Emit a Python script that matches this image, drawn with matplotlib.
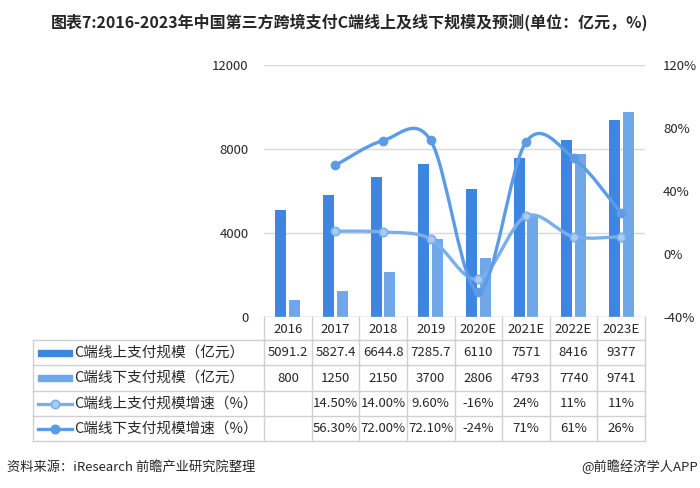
import numpy as np
import matplotlib
matplotlib.use("Agg")
import matplotlib.pyplot as plt
from matplotlib.path import Path
from matplotlib.patches import PathPatch, Rectangle
from matplotlib.lines import Line2D

plt.rcParams['font.family'] = ['Noto Sans CJK SC', 'DejaVu Sans']

# 数据
years = ["2016", "2017", "2018", "2019", "2020E", "2021E", "2022E", "2023E"]
online = [5091.2, 5827.4, 6644.8, 7285.7, 6110, 7571, 8416, 9377]
offline = [800, 1250, 2150, 3700, 2806, 4793, 7740, 9741]
online_growth = [None, 14.5, 14.0, 9.6, -16, 24, 11, 11]
offline_growth = [None, 56.3, 72.0, 72.1, -24, 71, 61, 26]
online_growth_txt = ["", "14.50%", "14.00%", "9.60%", "-16%", "24%", "11%", "11%"]
offline_growth_txt = ["", "56.30%", "72.00%", "72.10%", "-24%", "71%", "61%", "26%"]
row_labels = ["C端线上支付规模（亿元）", "C端线下支付规模（亿元）",
              "C端线上支付规模增速（%）", "C端线下支付规模增速（%）"]

C_ON = "#3E86E0"
C_OFF = "#70A7E9"
C_LON = "#7BAFEC"
C_LOFF = "#5C9BE6"
GRID = "#D9D9D9"
TXT = "#262626"

W, H = 700, 488
fig = plt.figure(figsize=(W / 100, H / 100), dpi=100)

# 主图区域 (像素)
px_l, px_r, px_t, px_b = 264, 645, 65, 317
ax = fig.add_axes([px_l / W, 1 - px_b / H, (px_r - px_l) / W, (px_b - px_t) / H])
ax2 = ax.twinx()

x = np.arange(len(years))
bw = 0.23
ax.bar(x - 0.145, online, bw, color=C_ON, zorder=2)
ax.bar(x + 0.145, offline, bw, color=C_OFF, zorder=2)
ax.set_xlim(-0.5, len(years) - 0.5)
ax.set_ylim(0, 12000)
ax.set_yticks([0, 4000, 8000, 12000])
ax.yaxis.grid(True, color=GRID, linewidth=1)
ax.set_axisbelow(True)
ax.set_xticks([])
ax.tick_params(axis='y', length=0, pad=11, labelsize=9.5, labelcolor=TXT)
for s in ax.spines.values():
    s.set_visible(False)
ax.axhline(0, color=GRID, linewidth=1)

ax2.set_ylim(-40, 120)
ax2.set_yticks([-40, 0, 40, 80, 120])
ax2.set_yticklabels([f"{v}%" for v in [-40, 0, 40, 80, 120]])
ax2.tick_params(axis='y', length=0, pad=13, labelsize=9.5, labelcolor=TXT)
for s in ax2.spines.values():
    s.set_visible(False)


def smooth_line(axis, xs, ys, color, lw):
    # Excel 式平滑线: 在像素空间做 Catmull-Rom -> 贝塞尔
    pts = axis.transData.transform(np.column_stack([xs, ys]))
    n = len(pts)
    verts = [pts[0]]
    codes = [Path.MOVETO]
    for i in range(n - 1):
        p0 = pts[max(i - 1, 0)]
        p1 = pts[i]
        p2 = pts[i + 1]
        p3 = pts[min(i + 2, n - 1)]
        c1 = p1 + (p2 - p0) / 6
        c2 = p2 - (p3 - p1) / 6
        verts += [c1, c2, p2]
        codes += [Path.CURVE4] * 3
    verts = axis.transData.inverted().transform(np.array(verts))
    axis.add_patch(PathPatch(Path(verts, codes), facecolor='none',
                             edgecolor=color, linewidth=lw, zorder=3,
                             capstyle='round'))


fig.canvas.draw()
gx = [i for i, v in enumerate(online_growth) if v is not None]
gy_on = [v for v in online_growth if v is not None]
gy_off = [v for v in offline_growth if v is not None]
smooth_line(ax2, gx, gy_on, C_LON, 2.4)
smooth_line(ax2, gx, gy_off, C_LOFF, 2.4)
ax2.plot(gx, gy_on, linestyle='none', marker='o', markersize=6,
         markerfacecolor="#A9CCF4", markeredgecolor=C_LON, markeredgewidth=1.2, zorder=4)
ax2.plot(gx, gy_off, linestyle='none', marker='o', markersize=6,
         color=C_LOFF, zorder=4)

# 数据表
tb_l, tb_b = 33, 441
colw = (px_r - px_l) / len(years)
tax = fig.add_axes([0, 0, 1, 1])
tax.set_xlim(0, W)
tax.set_ylim(H, 0)
tax.axis('off')
rows_y = [317, 340, 365, 391, 416, 441]
lc = "#D0D0D0"
# 横线
for y in rows_y[1:]:
    tax.plot([tb_l, px_r], [y, y], color=lc, lw=1)
# 竖线
for i in range(len(years) + 1):
    xx = px_l + i * colw
    tax.plot([xx, xx], [rows_y[0], rows_y[-1]], color=lc, lw=1)
tax.plot([tb_l, tb_l], [rows_y[1], rows_y[-1]], color=lc, lw=1)

# 表头
for i, yr in enumerate(years):
    tax.text(px_l + (i + 0.5) * colw, (rows_y[0] + rows_y[1]) / 2 + 1, yr,
             ha='center', va='center', fontsize=9.5, color=TXT)

table_rows = [[f"{v:g}" for v in online], [f"{v:g}" for v in offline],
              online_growth_txt, offline_growth_txt]
for r, vals in enumerate(table_rows):
    yc = (rows_y[r + 1] + rows_y[r + 2]) / 2
    for i, v in enumerate(vals):
        tax.text(px_l + (i + 0.5) * colw, yc, v, ha='center', va='center',
                 fontsize=9.5, color=TXT)
    tax.text(74, yc, row_labels[r], ha='left', va='center', fontsize=10.5, color=TXT)

# 图例符号
sym_l, sym_r = 38, 72
for r, col in enumerate([C_ON, C_OFF]):
    yc = (rows_y[r + 1] + rows_y[r + 2]) / 2
    tax.add_patch(Rectangle((sym_l, yc - 3), sym_r - sym_l, 6, color=col))
for r, (col, mfc) in enumerate([(C_LON, "#A9CCF4"), (C_LOFF, C_LOFF)], start=2):
    yc = (rows_y[r + 1] + rows_y[r + 2]) / 2
    tax.add_line(Line2D([sym_l, sym_r], [yc, yc], color=col, lw=2.4))
    tax.add_line(Line2D([(sym_l + sym_r) / 2], [yc], marker='o', markersize=6,
                        markerfacecolor=mfc, markeredgecolor=col, markeredgewidth=1.2))

# 标题与来源
fig.text(0.5, 1 - 22 / H, "图表7:2016-2023年中国第三方跨境支付C端线上及线下规模及预测(单位：亿元，%)",
         ha='center', va='center', fontsize=11.5, fontweight='bold', color=TXT)
fig.text(7 / W, 1 - 467 / H, "资料来源：iResearch 前瞻产业研究院整理",
         ha='left', va='center', fontsize=9.5, color=TXT)
fig.text(698 / W, 1 - 467 / H, "@前瞻经济学人APP",
         ha='right', va='center', fontsize=9.5, color=TXT)

fig.savefig("out.png", dpi=100)
